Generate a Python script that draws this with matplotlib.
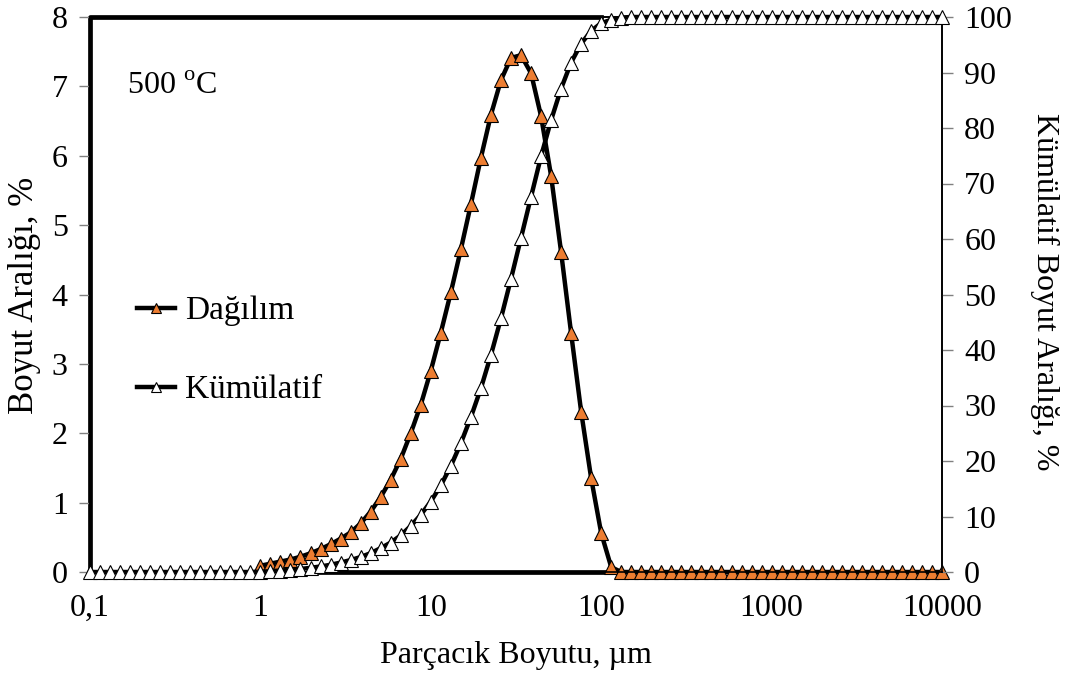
import numpy as np
import matplotlib
matplotlib.use('Agg')
import matplotlib.pyplot as plt

plt.rcParams['font.family'] = ['Liberation Serif', 'DejaVu Serif']
plt.rcParams['mathtext.fontset'] = 'custom'
plt.rcParams['mathtext.rm'] = 'Liberation Serif'

# particle size grid, um (17 points per decade)
sizes = [
    0.1, 0.1145, 0.1311, 0.1501, 0.1719, 0.1968, 0.2254, 0.2581, 0.2955, 0.3384, 0.3875, 0.4437, 0.5080, 0.5817, 0.6661, 0.7627, 0.8734,
    1.0, 1.145, 1.311, 1.501, 1.719, 1.968, 2.254, 2.581, 2.955, 3.384, 3.875, 4.437, 5.080, 5.817, 6.661, 7.627, 8.734,
    10.0, 11.45, 13.11, 15.01, 17.19, 19.68, 22.54, 25.81, 29.55, 33.84, 38.75, 44.37, 50.80, 58.17, 66.61, 76.27, 87.33,
    100.0, 114.5, 131.1, 150.1, 171.9, 196.8, 225.4, 258.1, 295.5, 338.4, 387.5, 443.7, 508.0, 581.7, 666.1, 762.7, 873.4,
    1000.0, 1145, 1311, 1501, 1719, 1968, 2254, 2581, 2955, 3384, 3875, 4437, 5080, 5817, 6661, 7627, 8734,
    10000.0,
]

# Dağılım (%) starts at 1 um
dist_sizes = sizes[17:]
dist = [0.09, 0.12, 0.15, 0.18, 0.22, 0.27, 0.33, 0.40, 0.48, 0.57, 0.70, 0.87, 1.08, 1.33, 1.63, 2.00, 2.41,
        2.90, 3.45, 4.03, 4.65, 5.30, 5.97, 6.59, 7.09, 7.41, 7.45, 7.19, 6.57, 5.71, 4.61, 3.44, 2.31, 1.35, 0.56, 0.07] + [0.0] * 33

# Kümülatif (%)
cum = [0.0] * 17 + [0.05, 0.15, 0.25, 0.4, 0.55, 0.75, 1.0, 1.3, 1.7, 2.15, 2.7, 3.4, 4.3, 5.3, 6.6, 8.3, 10.3,
                    12.7, 15.6, 19.1, 23.2, 27.9, 33.1, 39.1, 45.7, 52.8, 60.2, 67.6, 74.9, 81.4, 87.1, 91.8,
                    95.2, 97.5, 98.9, 99.5, 99.9] + [100.0] * 32

# heavy black outline seen in the original chart
edge_x = [0.1, 0.1, 100, np.nan, 2.0, 115]
edge_y = [0, 8, 8, np.nan, 0, 0]

x_ticks = [0.1, 1, 10, 100, 1000, 10000]
x_labels = ['0,1', '1', '10', '100', '1000', '10000']

orange = '#ED7D31'
fs = 23

fig = plt.figure(figsize=(10.7, 6.79), dpi=100)
ax = fig.add_axes([90 / 1070, 1 - 572 / 679, 852 / 1070, 555 / 679])
ax2 = ax.twinx()

ax.plot(edge_x, edge_y, color='black', lw=3.4, clip_on=False, zorder=1)
l1, = ax.plot(dist_sizes, dist, color='black', lw=3.2, marker='^', ms=10,
              mfc=orange, mec='black', mew=0.8, clip_on=False, label='Dağılım', zorder=3)
l2, = ax2.plot(sizes, cum, color='black', lw=3.2, marker='^', ms=10,
               mfc='white', mec='black', mew=0.8, clip_on=False, label='Kümülatif', zorder=3)

ax.set_xscale('log')
ax.set_xlim(0.1, 10000)
ax.set_ylim(0, 8)
ax2.set_ylim(0, 100)
ax.set_xticks(x_ticks)
ax.set_xticklabels(x_labels)
ax.xaxis.set_minor_locator(matplotlib.ticker.NullLocator())
ax.set_yticks(range(0, 9))
ax2.set_yticks(range(0, 101, 10))

ax.tick_params(axis='y', direction='out', length=8, width=1, color='#808080', labelsize=fs, pad=8)
ax2.tick_params(axis='y', direction='out', length=8, width=1, color='#808080', labelsize=fs, pad=8)
ax.tick_params(axis='x', length=0, labelsize=fs, pad=16)

for a in (ax, ax2):
    for s in a.spines.values():
        s.set_color('black')
        s.set_linewidth(1.2)

fig.text(25 / 1070, 1 - 295 / 679, 'Boyut Aralığı, %', rotation=90, ha='center', va='center', fontsize=25)
fig.text(1045 / 1070, 1 - 292 / 679, 'Kümülatif Boyut Aralığı, %', rotation=270, ha='center', va='center', fontsize=fs)
fig.text(516 / 1070, 1 - 655 / 679, 'Parçacık Boyutu, µm', ha='center', va='center', fontsize=fs)
fig.text(127 / 1070, 1 - 87 / 679, '500 $^{\\mathrm{o}}$C', ha='left', va='center', fontsize=fs)

leg = ax2.legend(handles=[l1, l2], loc='upper left', bbox_to_anchor=(137 / 1070, 1 - 296 / 679),
                 bbox_transform=fig.transFigure, frameon=False, fontsize=24, handlelength=1.15,
                 handletextpad=0.3, labelspacing=1.45, markerscale=0.7, borderaxespad=0, borderpad=0)

fig.savefig('out.png', dpi=100)
